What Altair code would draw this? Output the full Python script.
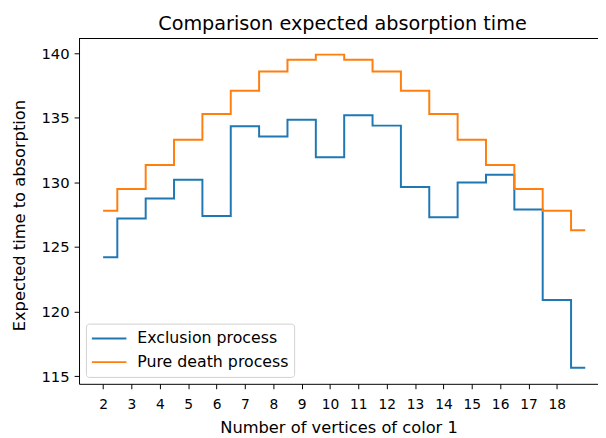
import altair as alt
import pandas as pd

x_vals = list(range(2, 20))
exclusion = [124.2, 127.2, 128.75, 130.2, 127.4, 134.35, 133.55, 134.85, 131.95,
             135.2, 134.4, 129.65, 127.3, 130.0, 130.6, 127.9, 120.9, 115.65]
pure_death = [127.8, 129.5, 131.35, 133.3, 135.3, 137.1, 138.6, 139.5, 139.9,
              139.5, 138.6, 137.1, 135.3, 133.3, 131.35, 129.5, 127.8, 126.3]
series_names = ["Exclusion process", "Pure death process"]
series_colors = ["#1f77b4", "#ff7f0e"]
x_ticks = list(range(2, 19))

rows = []
for xv, a, b in zip(x_vals, exclusion, pure_death):
    rows.append({"x": xv, "y": a, "series": series_names[0]})
    rows.append({"x": xv, "y": b, "series": series_names[1]})
df = pd.DataFrame(rows)

FONT = "DejaVu Sans"
W, H = 526, 350

lines = alt.Chart(df).mark_line(interpolate="step", strokeWidth=2).encode(
    x=alt.X("x:Q",
            scale=alt.Scale(domain=[1.15, 19.45], nice=False, zero=False),
            axis=alt.Axis(values=x_ticks, title="Number of vertices of color 1",
                          grid=False, tickSize=5, labelPadding=9, titlePadding=8,
                          labelFontSize=14, titleFontSize=16.5, labelFlush=False)),
    y=alt.Y("y:Q",
            scale=alt.Scale(domain=[114.4, 141.15], nice=False, zero=False),
            axis=alt.Axis(values=[115, 120, 125, 130, 135, 140],
                          title="Expected time to absorption",
                          grid=False, tickSize=5, labelPadding=5,
                          titleX=-60, titleY=179, titleBaseline="middle",
                          labelFontSize=15, titleFontSize=16.5)),
    color=alt.Color("series:N",
                    scale=alt.Scale(domain=series_names, range=series_colors),
                    legend=alt.Legend(title=None, orient="none", legendX=7, legendY=289,
                                      symbolType="stroke", symbolSize=1225,
                                      symbolStrokeWidth=2, labelFontSize=16,
                                      labelOffset=10, rowPadding=4, padding=5,
                                      clipHeight=20,
                                      strokeColor="#d0d0d0", fillColor="white",
                                      cornerRadius=3)),
)

top_spine = alt.Chart(df).mark_rule(color="black", strokeWidth=1).encode(
    x=alt.value(0), x2=alt.value(W), y=alt.value(0)
)

chart = alt.layer(lines, top_spine).properties(
    width=W, height=H,
    title=alt.TitleParams("Comparison expected absorption time", fontSize=19.5,
                          font=FONT, fontWeight="normal", offset=4, dx=4),
    autosize=alt.AutoSizeParams(type="none"),
    padding={"left": 72, "top": 28, "right": 0, "bottom": 52},
).configure_view(stroke=None).configure_axis(
    labelFont=FONT, titleFont=FONT, domainColor="black", tickColor="black",
    labelColor="black", titleColor="black", titleFontWeight="normal"
).configure_legend(labelFont=FONT, labelColor="black")

chart.save("out.html", embed_options={"renderer": "svg", "actions": False})
